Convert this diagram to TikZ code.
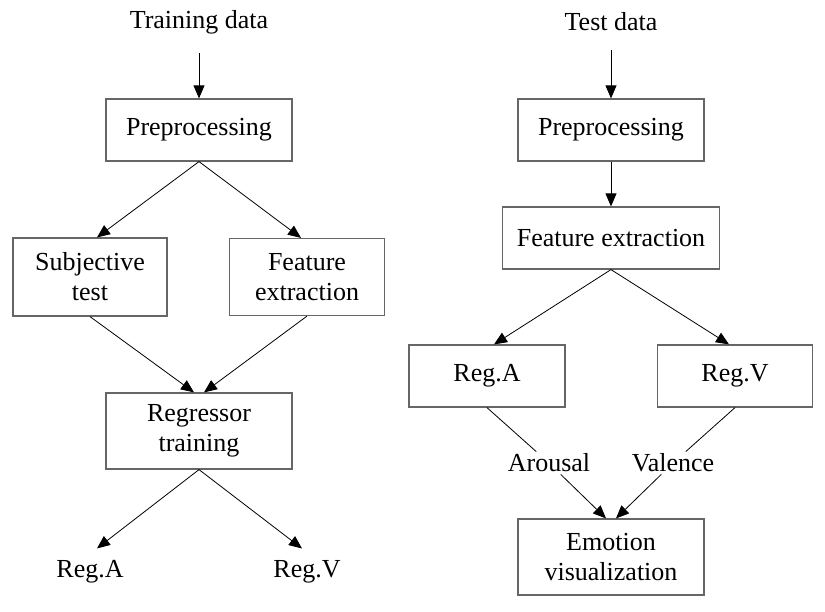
\documentclass[tikz,border=0pt]{standalone}
\usepackage{fontspec}
\setmainfont{Liberation Serif}
\usetikzlibrary{arrows.meta}

\begin{document}
\begin{tikzpicture}[x=1pt, y=-1pt,
   every node/.style={font=\fontsize{26}{30}\selectfont, align=center, inner sep=2pt},
   box/.style={draw=black!60, line width=1.2pt, inner sep=0pt, minimum width=186pt, minimum height=62pt},
   flow/.style={draw, line width=0.8pt, -{Triangle[length=13pt, width=11pt]}},
   split/.style={draw, line width=0.8pt}]

\useasboundingbox (0,0) rectangle (825,611);

% training side
\node (train) at (199,22) {Training data};
\node[box] (pre1) at (199,130) {Preprocessing};
\node[box, minimum width=154pt, minimum height=78pt] (subj) at (90,277) {Subjective\\test};
\node[box, minimum width=155pt, minimum height=77pt] (feat1) at (307,277) {Feature\\extraction};
\node[box, minimum height=76pt] (reg) at (199,431) {Regressor\\training};
\node (rega1) at (90,572) {Reg.A};
\node (regv1) at (307,572) {Reg.V};

\draw[flow, shorten <=17pt] (train) -- (pre1);
\draw[flow] (pre1.south) -- ([xshift=7pt]subj.north);
\draw[flow] (pre1.south) -- ([xshift=-6pt]feat1.north);
\draw[flow] (subj.south) -- ([xshift=-5pt]reg.north);
\draw[flow] (feat1.south) -- ([xshift=5pt]reg.north);
\draw[flow] (reg.south) -- ([shift={(7,-10)}]rega1.north);
\draw[flow] (reg.south) -- ([shift={(-5,-10)}]regv1.north);

% test side
\node (test) at (611,22) {Test data};
\node[box] (pre2) at (611,130) {Preprocessing};
\node[box, minimum width=217pt] (feat2) at (611,238) {Feature extraction};
\node[box, minimum width=156pt] (rega2) at (487,376) {Reg.A};
\node[box, minimum width=155pt] (regv2) at (735,376) {Reg.V};
\node (arousal) at (549,463) {Arousal};
\node (valence) at (673,463) {Valence};
\node[box, minimum height=76pt] (emo) at (611,557) {Emotion\\visualization};

\draw[flow, shorten <=17pt] (test) -- (pre2);
\draw[flow] (pre2) -- (feat2);
\draw[flow] (feat2.south) -- ([xshift=7pt]rega2.north);
\draw[flow] (feat2.south) -- ([xshift=-6pt]regv2.north);
\draw[split] (rega2.south) -- (arousal);
\draw[split] (regv2.south) -- (valence);
\draw[flow] (arousal) -- ([xshift=-5pt]emo.north);
\draw[flow] (valence) -- ([xshift=5pt]emo.north);

\end{tikzpicture}
\end{document}
